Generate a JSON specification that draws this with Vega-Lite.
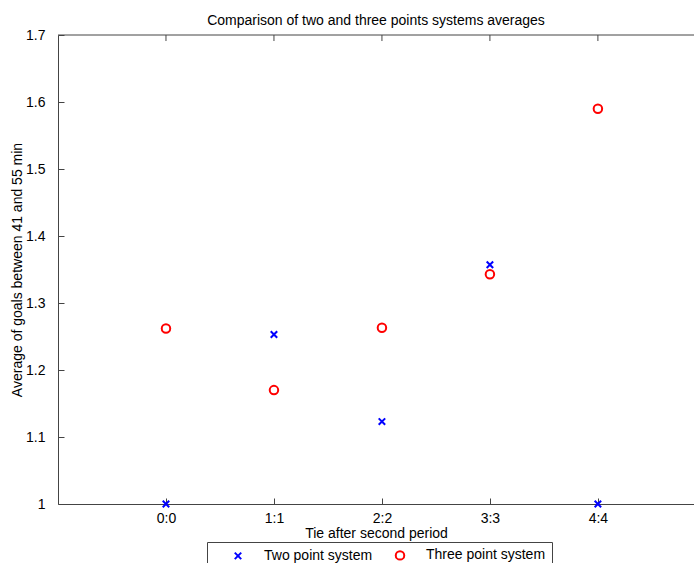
{
  "$schema": "https://vega.github.io/schema/vega-lite/v6.json",
  "width": 636,
  "height": 469,
  "autosize": {"type": "none"},
  "padding": {"left": 58, "top": 35, "right": 0, "bottom": 59},
  "background": "white",
  "title": {
    "text": "Comparison of two and three points systems averages",
    "font": "Liberation Sans",
    "fontSize": 14,
    "fontWeight": "normal",
    "color": "#000",
    "offset": 0
  },
  "config": {
    "view": {"stroke": null},
    "axis": {
      "domainColor": "#444",
      "tickColor": "#444",
      "labelFont": "Liberation Sans",
      "titleFont": "Liberation Sans",
      "labelFontSize": 14,
      "titleFontSize": 14,
      "titleFontWeight": "normal",
      "labelColor": "#000",
      "titleColor": "#000",
      "grid": false
    }
  },
  "data": {
    "values": [
      {"tie": 0, "avg": 1.0, "system": "Two point system"},
      {"tie": 1, "avg": 1.253, "system": "Two point system"},
      {"tie": 2, "avg": 1.123, "system": "Two point system"},
      {"tie": 3, "avg": 1.357, "system": "Two point system"},
      {"tie": 4, "avg": 1.0, "system": "Two point system"},
      {"tie": 0, "avg": 1.262, "system": "Three point system"},
      {"tie": 1, "avg": 1.170, "system": "Three point system"},
      {"tie": 2, "avg": 1.263, "system": "Three point system"},
      {"tie": 3, "avg": 1.343, "system": "Three point system"},
      {"tie": 4, "avg": 1.590, "system": "Three point system"}
    ]
  },
  "layer": [
    {
      "mark": {"type": "point", "filled": false, "strokeWidth": 2, "opacity": 1, "clip": false},
      "encoding": {
        "x": {
          "field": "tie",
          "type": "quantitative",
          "scale": {"domain": [-1, 4.89], "nice": false, "zero": false},
          "axis": {
            "values": [0, 1, 2, 3, 4],
            "labelExpr": "datum.value + ':' + datum.value",
            "title": "Tie after second period",
            "tickSize": -6,
            "labelPadding": 13,
            "titlePadding": 1
          }
        },
        "y": {
          "field": "avg",
          "type": "quantitative",
          "scale": {"domain": [1, 1.7], "nice": false, "zero": false},
          "axis": {
            "values": [1, 1.1, 1.2, 1.3, 1.4, 1.5, 1.6, 1.7],
            "labelExpr": "format(datum.value, '.1~f')",
            "title": "Average of goals between 41 and 55 min",
            "tickSize": -6,
            "labelPadding": 19,
            "titlePadding": 1
          }
        },
        "color": {
          "field": "system",
          "type": "nominal",
          "scale": {"domain": ["Two point system", "Three point system"], "range": ["#0000ff", "#ff0000"]},
          "legend": {
            "orient": "none",
            "legendX": 149,
            "legendY": 507,
            "direction": "horizontal",
            "title": null,
            "strokeColor": "#444",
            "fillColor": "white",
            "padding": 6,
            "labelFont": "Liberation Sans",
            "labelFontSize": 14,
            "labelColor": "#000",
            "columnPadding": 2,
            "symbolStrokeWidth": 2,
            "symbolOpacity": 1,
            "symbolSize": 60,
            "symbolOffset": 18,
            "labelOffset": 19,
            "offset": 0
          }
        },
        "shape": {
          "field": "system",
          "type": "nominal",
          "scale": {"domain": ["Two point system", "Three point system"], "range": ["M-1,-1L1,1M-1,1L1,-1", "circle"]}
        },
        "size": {
          "field": "system",
          "type": "nominal",
          "scale": {"domain": ["Two point system", "Three point system"], "range": [42, 72]},
          "legend": null
        }
      }
    },
    {
      "mark": {"type": "rule", "color": "#444", "strokeWidth": 1},
      "data": {"values": [{"x": 0}, {"x": 1}, {"x": 2}, {"x": 3}, {"x": 4}]},
      "encoding": {
        "x": {"field": "x", "type": "quantitative"},
        "y": {"datum": 1.7},
        "y2": {"datum": 1.691}
      }
    },
    {
      "mark": {"type": "rule", "color": "#444", "strokeWidth": 1},
      "data": {"values": [{"a": 1}]},
      "encoding": {
        "y": {"datum": 1.7}
      }
    }
  ]
}
